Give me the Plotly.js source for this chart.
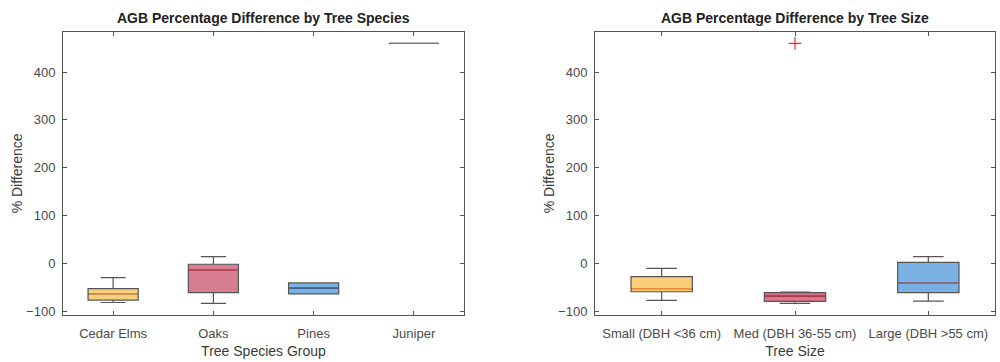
<!DOCTYPE html>
<html>
<head>
<meta charset="utf-8">
<script src="https://cdn.plot.ly/plotly-3.0.1.min.js"></script>
<style>html,body{margin:0;padding:0;background:#fff;}#chart{width:1000px;height:362px;}</style>
</head>
<body>
<div id="chart"></div>
<script>
// Left panel: by species
const speciesCats = ["Cedar Elms", "Oaks", "Pines", "Juniper"];
const speciesLowerWhisker = [-82, -84, -64, 460];
const speciesQ1 = [-77, -61.5, -64, 460];
const speciesMedian = [-64, -14, -52, 460];
const speciesQ3 = [-53, -2, -41, 460];
const speciesUpperWhisker = [-30, 14, -41, 460];

// Right panel: by size
const sizeCats = ["Small (DBH <36 cm)", "Med (DBH 36-55 cm)", "Large (DBH >55 cm)"];
const sizeLowerWhisker = [-77.5, -84, -79];
const sizeQ1 = [-59.5, -79.5, -61.5];
const sizeMedian = [-53, -68.5, -41];
const sizeQ3 = [-28, -61.5, 2];
const sizeUpperWhisker = [-10.5, -60, 14];
const sizeOutlierCat = ["Med (DBH 36-55 cm)"];
const sizeOutlierVal = [460];

const yTicks = [-100, 0, 100, 200, 300, 400];

const fills = ["rgb(250,206,122)", "rgb(214,126,144)", "rgb(124,178,226)", "rgba(200,200,200,0)"];
const medCols = ["rgb(232,150,70)", "rgb(200,62,88)", "rgb(50,90,140)", "rgb(120,120,120)"];
const fillsR = ["rgb(250,206,122)", "rgb(224,114,140)", "rgb(122,176,226)"];
const medColsR = ["rgb(236,140,50)", "rgb(170,50,70)", "rgb(150,100,140)"];

const traces = [];
function addBoxes(cats, lo, q1, med, q3, hi, colors, mcols, xa, ya, width) {
  cats.forEach((c, i) => {
    traces.push({
      type: "box",
      x: [c],
      q1: [q1[i]], median: [med[i]], q3: [q3[i]],
      lowerfence: [lo[i]], upperfence: [hi[i]],
      xaxis: xa, yaxis: ya,
      fillcolor: colors[i],
      line: {color: "#555555", width: 1.2},
      whiskerwidth: 0.5,
      width: width,
      boxpoints: false,
      hoverinfo: "skip",
      showlegend: false
    });
    // coloured median line
    traces.push({
      type: "box",
      x: [c],
      q1: [med[i]], median: [med[i]], q3: [med[i]],
      lowerfence: [med[i]], upperfence: [med[i]],
      xaxis: xa, yaxis: ya,
      fillcolor: "rgba(0,0,0,0)",
      line: {color: mcols[i], width: 1.3},
      whiskerwidth: 0,
      width: width * 0.97,
      boxpoints: false,
      hoverinfo: "skip",
      showlegend: false
    });
  });
}
addBoxes(speciesCats, speciesLowerWhisker, speciesQ1, speciesMedian, speciesQ3, speciesUpperWhisker, fills, medCols, "x", "y", 0.5);
addBoxes(sizeCats, sizeLowerWhisker, sizeQ1, sizeMedian, sizeQ3, sizeUpperWhisker, fillsR, medColsR, "x2", "y2", 0.46);

traces.push({
  type: "scatter", mode: "markers",
  x: sizeOutlierCat, y: sizeOutlierVal,
  xaxis: "x2", yaxis: "y2",
  marker: {symbol: "cross-thin-open", size: 9, line: {color: "#ff2a2a", width: 1.2}, color: "#ff2a2a"},
  showlegend: false, hoverinfo: "skip"
});

const tickFont = {family: "Liberation Sans, Arial, sans-serif", size: 13, color: "#4a4a4a"};
const axTitleFont = {family: "Liberation Sans, Arial, sans-serif", size: 14, color: "#3a3a3a"};
function xAxis(domain, cats, title, anchor) {
  return {
    domain: domain, anchor: anchor, type: "category",
    categoryarray: cats, categoryorder: "array",
    range: [-0.5, cats.length - 0.5],
    showline: true, mirror: "ticks", linecolor: "#555", linewidth: 1,
    ticks: "inside", ticklen: 4, tickcolor: "#555",
    ticklabelstandoff: 6,
    showgrid: false, zeroline: false, tickfont: tickFont,
    title: {text: title, font: axTitleFont, standoff: 6}
  };
}
function yAxis(domain, anchor) {
  return {
    domain: domain, anchor: anchor,
    range: [-108, 484], tickvals: yTicks,
    showline: true, mirror: "ticks", linecolor: "#555", linewidth: 1,
    ticks: "inside", ticklen: 4, tickcolor: "#555",
    ticklabelstandoff: 4,
    showgrid: false, zeroline: false, tickfont: tickFont,
    title: {text: "% Difference", font: axTitleFont, standoff: 0}
  };
}

const layout = {
  width: 1000, height: 362,
  margin: {l: 0, r: 0, t: 0, b: 0},
  paper_bgcolor: "#fff", plot_bgcolor: "#fff",
  showlegend: false,
  boxmode: "overlay",
  xaxis: xAxis([0.063, 0.464], speciesCats, "Tree Species Group", "y"),
  yaxis: yAxis([0.13, 0.912], "x"),
  xaxis2: xAxis([0.595, 0.995], sizeCats, "Tree Size", "y2"),
  yaxis2: yAxis([0.13, 0.912], "x2"),
  annotations: [
    {text: "<b>AGB Percentage Difference by Tree Species</b>", x: 0.2635, y: 0.95, xref: "paper", yref: "paper",
     xanchor: "center", yanchor: "middle", showarrow: false,
     font: {family: "Liberation Sans, Arial, sans-serif", size: 14, color: "#222"}},
    {text: "<b>AGB Percentage Difference by Tree Size</b>", x: 0.795, y: 0.95, xref: "paper", yref: "paper",
     xanchor: "center", yanchor: "middle", showarrow: false,
     font: {family: "Liberation Sans, Arial, sans-serif", size: 14, color: "#222"}}
  ]
};

Plotly.newPlot("chart", traces, layout, {displayModeBar: false, staticPlot: true});
</script>
</body>
</html>
